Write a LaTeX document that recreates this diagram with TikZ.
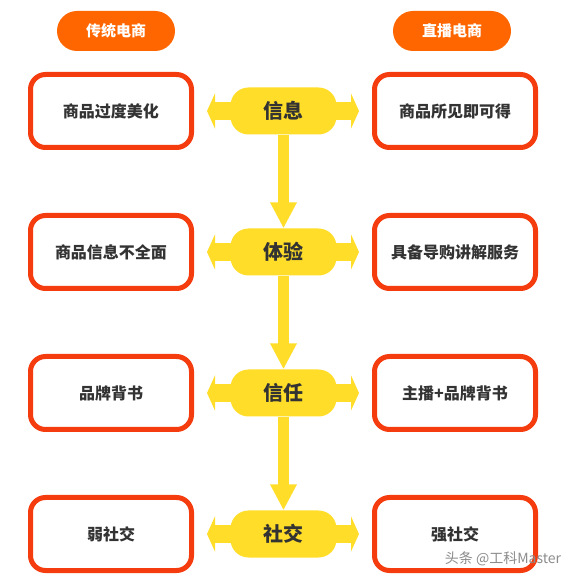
\documentclass[tikz,border=0pt]{standalone}
\usepackage{fontspec}
\setmainfont{Noto Sans CJK SC}
\usetikzlibrary{arrows.meta,backgrounds}
\definecolor{hdrorange}{RGB}{255,102,0}
\definecolor{boxred}{RGB}{245,60,15}
\definecolor{hubyellow}{RGB}{255,221,40}
\definecolor{txtgray}{RGB}{51,51,51}
\newcommand{\fsz}[1]{\fontsize{#1}{#1}\selectfont}
\tikzset{
  hdr/.style={fill=hdrorange, text=white, rounded corners=20pt, minimum width=118pt,
    minimum height=40pt, inner sep=0pt, font=\bfseries\fsz{15}},
  side/.style={draw=boxred, line width=5pt, fill=white, rounded corners=15pt,
    minimum width=161pt, minimum height=73pt, inner sep=0pt, text=txtgray, font=\bfseries\fsz{16}},
  hub/.style={fill=hubyellow, rounded corners=18pt, minimum width=106pt,
    minimum height=47pt, inner sep=0pt, text=txtgray, font=\bfseries\fsz{20}},
  harrow/.style={draw=hubyellow, line width=18pt, shorten <=13pt, shorten >=13pt,
    {Triangle[width=35pt,length=8pt]}-{Triangle[width=35pt,length=8pt]}},
  varrow/.style={draw=hubyellow, line width=11pt, -{Triangle[width=25pt,length=26pt]}}
}
\begin{document}
\begin{tikzpicture}[x=1pt,y=-1pt]
\useasboundingbox (0,0) rectangle (582,580);
% column headers
\node[hdr] (hl) at (116,31) {传统电商};
\node[hdr] (hr) at (452,31) {直播电商};
% rows
\foreach \r/\hubtxt/\lt/\rt in {1/信息/商品过度美化/商品所见即可得,
    2/体验/商品信息不全面/具备导购讲解服务,
    3/信任/品牌背书/主播+品牌背书,
    4/社交/弱社交/强社交}{
  \pgfmathsetmacro{\yy}{111+141*(\r-1)}
  \node[side] (l\r) at (111,\yy) {\lt};
  \node[side] (r\r) at (455,\yy) {\rt};
  \node[hub] (c\r) at (283.5,\yy) {\hubtxt};
  \begin{scope}[on background layer]
    \draw[harrow] (l\r) -- (r\r);
  \end{scope}
}
\foreach \a/\b in {1/2,2/3,3/4}
  \draw[varrow] (c\a) -- (c\b);
% watermark
\node[text=black!45, font=\fsz{14}] (wm) at (503,559) {头条 @工科Master};
\end{tikzpicture}
\end{document}
